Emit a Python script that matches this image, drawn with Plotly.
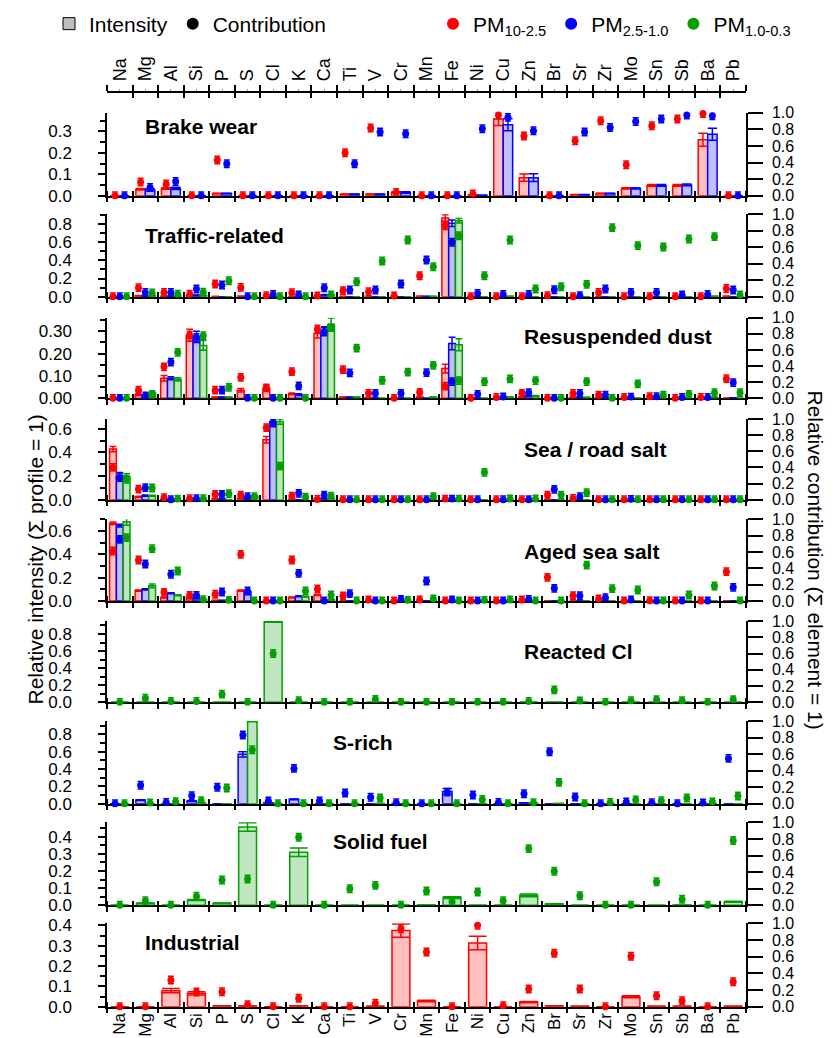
import plotly.graph_objects as go

elements = ["Na", "Mg", "Al", "Si", "P", "S", "Cl", "K", "Ca", "Ti", "V", "Cr", "Mn",
            "Fe", "Ni", "Cu", "Zn", "Br", "Sr", "Zr", "Mo", "Sn", "Sb", "Ba", "Pb"]

# ---- Brake wear ----
brake_int_pm10 = [0, .030, .034, 0, .010, 0, 0, 0, 0, .007, .007, .015, 0, 0, .003, .358, .084, 0, .005, .010, .034, .048, .048, .261, 0]
brake_err_pm10 = [0, .004, .004, 0, .001, 0, 0, 0, 0, .001, .001, .003, 0, 0, 0, .031, .017, 0, .001, .001, .003, .004, .004, .030, 0]
brake_con_pm10 = [0, .165, .140, 0, .430, 0, 0, 0, 0, .518, .815, .040, 0, 0, .020, .972, .720, 0, .663, .904, .373, .843, .924, .990, 0]
brake_int_pm25 = [0, .027, .034, 0, .010, 0, 0, 0, 0, .007, .007, .015, 0, 0, .002, .331, .084, 0, .005, .010, .034, .048, .050, .287, 0]
brake_err_pm25 = [0, .005, .005, 0, .001, 0, 0, 0, 0, .001, .001, .003, 0, 0, 0, .028, .018, 0, .001, .001, .003, .004, .004, .028, 0]
brake_con_pm25 = [0, .100, .170, 0, .385, 0, 0, 0, 0, .385, .767, .747, 0, 0, .807, .944, .783, 0, .767, .823, .895, .924, .972, .964, 0]

# ---- Traffic-related ----
traffic_int_pm10 = [0, .010, .005, .010, .002, .005, 0, 0, .005, .002, .002, .002, .005, .865, 0, 0, 0, 0, 0, 0, 0, 0, 0, 0, .005]
traffic_err_pm10 = [0, .002, .001, .002, 0, .001, 0, 0, .001, 0, 0, 0, .001, .035, 0, 0, 0, 0, 0, 0, 0, 0, 0, 0, .001]
traffic_con_pm10 = [0, .110, .050, .030, .154, .113, .012, .049, .008, .073, .060, .008, .255, .862, 0, 0, 0, .012, 0, .050, 0, 0, 0, 0, .100]
traffic_int_pm25 = [0, .005, .003, .015, 0, 0, 0, 0, .020, 0, 0, 0, .003, .807, 0, 0, 0, 0, 0, 0, 0, 0, 0, 0, 0]
traffic_err_pm25 = [0, .001, .001, .003, 0, 0, 0, 0, .003, 0, 0, 0, .001, .035, 0, 0, 0, 0, 0, 0, 0, 0, 0, 0, 0]
traffic_con_pm25 = [0, .050, .050, .093, .142, 0, .028, .020, .109, .081, .081, .154, .445, .660, .040, .028, .028, .085, .012, .093, .050, .050, .020, .028, .081]
traffic_int_pm1 = [0, .010, .003, .010, 0, 0, 0, 0, .015, 0, 0, 0, .003, .835, 0, .005, 0, 0, 0, 0, 0, 0, 0, .005, 0]
traffic_err_pm1 = [0, .002, 0, .002, 0, 0, 0, 0, .003, 0, 0, 0, .001, .025, 0, .001, 0, 0, 0, 0, 0, 0, 0, .001, 0]
traffic_con_pm1 = [0, .045, .030, .053, .194, 0, 0, 0, .020, .182, .433, .688, .364, .740, .255, .688, .093, .120, .150, .838, .620, .603, .700, .729, .020]

# ---- Resuspended dust ----
dust_int_pm10 = [0, .016, .090, .282, .005, .036, .045, .020, .290, .005, .002, 0, .005, .133, 0, 0, .005, 0, .004, .002, 0, 0, 0, 0, 0]
dust_err_pm10 = [0, .004, .012, .027, .001, .008, .012, .004, .020, .001, 0, 0, .001, .020, 0, 0, .001, 0, .001, 0, 0, 0, 0, 0, 0]
dust_con_pm10 = [0, .100, .390, .785, .100, .260, .128, .330, .860, .355, .062, 0, .074, .150, 0, .010, .062, 0, .060, .040, .010, .020, 0, .010, .244]
dust_int_pm25 = [0, .013, .090, .275, .005, 0, 0, .016, .300, .005, 0, 0, 0, .245, 0, 0, .010, 0, .004, 0, 0, 0, 0, 0, .002]
dust_err_pm25 = [0, .003, .007, .025, .001, 0, 0, .004, .020, .001, 0, 0, 0, .028, 0, 0, .002, 0, .001, 0, 0, 0, 0, 0, 0]
dust_con_pm25 = [0, .030, .450, .756, .100, 0, 0, .153, .830, .314, .062, .062, .318, .207, .050, .017, .070, 0, .060, .040, .015, .020, .010, .010, .195]
dust_int_pm1 = [0, .024, .085, .237, .005, 0, 0, 0, .330, .005, 0, 0, .005, .240, 0, .005, .010, 0, .004, 0, 0, 0, 0, .003, 0]
dust_err_pm1 = [0, .004, .007, .022, .001, 0, 0, 0, .030, .001, 0, 0, .001, .027, 0, .001, .002, 0, .001, 0, 0, 0, 0, .001, 0]
dust_con_pm1 = [0, .050, .570, .777, .136, 0, 0, 0, .876, .624, .223, .326, .410, .220, .207, .240, .220, 0, .207, 0, .180, .040, .050, .070, .070]

# ---- Sea / road salt ----
sea_int_pm10 = [.428, .025, .003, .002, .005, .010, .507, .004, .010, 0, 0, 0, 0, 0, 0, 0, 0, 0, 0, 0, 0, 0, 0, 0, 0]
sea_err_pm10 = [.022, .004, 0, 0, .001, .002, .027, 0, .002, 0, 0, 0, 0, 0, 0, 0, 0, 0, 0, 0, 0, 0, 0, 0, 0]
sea_con_pm10 = [.400, .132, .025, .012, .066, .058, .893, .045, .004, 0, 0, 0, 0, .008, 0, 0, 0, .058, .016, 0, 0, 0, 0, 0, 0]
sea_int_pm25 = [.200, .034, .003, 0, .005, .020, .660, 0, .010, 0, 0, 0, 0, 0, 0, 0, 0, 0, 0, 0, 0, 0, 0, 0, 0]
sea_err_pm25 = [.030, .005, 0, 0, .001, .004, .038, 0, .002, 0, 0, 0, 0, 0, 0, 0, 0, 0, 0, 0, 0, 0, 0, 0, 0]
sea_con_pm25 = [.273, .149, 0, .012, .066, .037, .950, .079, .058, 0, 0, 0, 0, .008, 0, 0, 0, .128, .037, 0, .005, 0, 0, 0, 0]
sea_int_pm1 = [.195, .034, 0, 0, 0, .030, .660, 0, .010, 0, 0, 0, 0, 0, 0, 0, 0, 0, 0, 0, 0, 0, 0, 0, 0]
sea_err_pm1 = [.025, .004, 0, 0, 0, .005, .022, 0, .002, 0, 0, 0, 0, 0, 0, 0, 0, 0, 0, 0, 0, 0, 0, 0, 0]
sea_con_pm1 = [.252, .145, .008, .012, .074, .037, .417, .033, .045, 0, 0, 0, .037, .008, .340, .010, .010, .058, .087, 0, 0, 0, 0, 0, 0]

# ---- Aged sea salt ----
aged_int_pm10 = [.666, .089, .029, .030, .005, .089, 0, .031, .051, 0, 0, 0, 0, 0, 0, 0, 0, 0, 0, 0, 0, 0, 0, 0, 0]
aged_err_pm10 = [.010, .005, .003, .003, .001, .005, 0, .004, .004, 0, 0, 0, 0, 0, 0, 0, 0, 0, 0, 0, 0, 0, 0, 0, 0]
aged_con_pm10 = [.612, .502, .106, .069, .082, .571, 0, .502, .147, .061, .012, 0, .012, 0, 0, 0, .012, .290, .065, .024, 0, .004, 0, 0, .359]
aged_int_pm25 = [.646, .100, .066, .030, .005, .080, 0, .040, 0, 0, 0, 0, 0, 0, 0, 0, 0, 0, 0, 0, 0, 0, 0, 0, 0]
aged_err_pm25 = [.012, .005, .004, .003, .001, .005, 0, .004, 0, 0, 0, 0, 0, 0, 0, 0, 0, 0, 0, 0, 0, 0, 0, 0, 0]
aged_con_pm25 = [.755, .453, .327, .069, .110, .122, 0, .339, 0, .090, 0, .020, .245, .012, 0, 0, .020, .155, .065, .040, .012, 0, 0, 0, .167]
aged_int_pm1 = [.680, .130, .050, .010, 0, 0, 0, .037, .010, 0, 0, 0, 0, 0, 0, 0, 0, 0, 0, 0, 0, 0, 0, 0, 0]
aged_err_pm1 = [.030, .016, .004, .002, 0, 0, 0, .003, .002, 0, 0, 0, 0, 0, 0, 0, 0, 0, 0, 0, 0, 0, 0, 0, 0]
aged_con_pm1 = [.776, .641, .367, .016, .008, 0, 0, .122, .073, 0, 0, .008, .024, 0, .008, .012, 0, 0, .440, .151, .135, 0, .073, .184, 0]

# ---- Reacted Cl ----
cl_int_pm1 = [0, 0, 0, 0, 0, 0, .945, 0, 0, 0, 0, 0, 0, 0, 0, 0, 0, 0, 0, 0, 0, 0, 0, 0, 0]
cl_err_pm1 = [0, 0, 0, 0, 0, 0, .008, 0, 0, 0, 0, 0, 0, 0, 0, 0, 0, 0, 0, 0, 0, 0, 0, 0, 0]
cl_con_pm1 = [0, .050, .010, .010, .100, 0, .600, .020, 0, 0, .037, 0, 0, 0, 0, 0, .010, .152, .016, 0, .020, .033, .020, 0, .033]

# ---- S-rich ----
srich_int_pm25 = [0, .042, 0, .030, 0, .570, .010, .050, 0, 0, 0, 0, 0, .140, 0, 0, .010, 0, 0, 0, 0, 0, 0, 0, 0]
srich_err_pm25 = [0, .005, 0, .004, 0, .030, .002, .005, 0, 0, 0, 0, 0, .035, 0, 0, .002, 0, 0, 0, 0, 0, 0, 0, 0]
srich_con_pm25 = [0, .222, .016, .097, .200, .830, .032, .427, .032, .129, .077, .012, 0, .140, .105, .016, .121, .629, .081, 0, .020, .012, 0, .008, .548]
srich_int_pm1 = [0, 0, 0, .005, 0, .950, 0, 0, 0, 0, .002, 0, 0, 0, 0, 0, .002, .002, 0, 0, 0, 0, 0, 0, 0]
srich_err_pm1 = [0, 0, 0, .001, 0, .004, 0, 0, 0, 0, 0, 0, 0, 0, 0, 0, 0, 0, 0, 0, 0, 0, 0, 0, 0]
srich_con_pm1 = [0, .008, .024, .036, .190, .653, 0, 0, 0, 0, .069, 0, 0, 0, .052, 0, .012, .258, 0, .016, .044, .036, .069, .020, .093]

# ---- Solid fuel ----
solid_int_pm1 = [0, .012, 0, .031, .012, .456, 0, .309, 0, 0, 0, 0, .002, .045, 0, 0, .058, .008, 0, 0, 0, 0, .002, 0, .021]
solid_err_pm1 = [0, .002, 0, .003, .002, .025, 0, .025, 0, 0, 0, 0, 0, .005, 0, 0, .008, .001, 0, 0, 0, 0, 0, 0, .003]
solid_con_pm1 = [0, .056, 0, .108, .305, .317, 0, .820, 0, .200, .240, 0, .173, .044, .160, .056, .683, .410, .116, 0, 0, .285, .072, 0, .780]

# ---- Industrial ----
ind_int_pm10 = [0, 0, .079, .066, .003, .003, 0, .003, 0, 0, .002, .374, .028, 0, .313, 0, .023, .003, .002, 0, .049, .002, .002, 0, .002]
ind_err_pm10 = [0, 0, .010, .008, 0, 0, 0, 0, 0, 0, 0, .033, .004, 0, .033, 0, .003, 0, 0, 0, .005, 0, 0, 0, 0]
ind_con_pm10 = [0, 0, .320, .176, .180, .024, 0, .100, 0, 0, .040, .936, .656, 0, .976, .012, .212, .640, .212, 0, .604, .132, .072, 0, .300]

con_err = 0.045  # typical uncertainty of the contribution points

panels = [
    ("Brake wear", [("pm10", brake_int_pm10, brake_err_pm10, brake_con_pm10),
                    ("pm25", brake_int_pm25, brake_err_pm25, brake_con_pm25)]),
    ("Traffic-related", [("pm10", traffic_int_pm10, traffic_err_pm10, traffic_con_pm10),
                         ("pm25", traffic_int_pm25, traffic_err_pm25, traffic_con_pm25),
                         ("pm1", traffic_int_pm1, traffic_err_pm1, traffic_con_pm1)]),
    ("Resuspended dust", [("pm10", dust_int_pm10, dust_err_pm10, dust_con_pm10),
                          ("pm25", dust_int_pm25, dust_err_pm25, dust_con_pm25),
                          ("pm1", dust_int_pm1, dust_err_pm1, dust_con_pm1)]),
    ("Sea / road salt", [("pm10", sea_int_pm10, sea_err_pm10, sea_con_pm10),
                         ("pm25", sea_int_pm25, sea_err_pm25, sea_con_pm25),
                         ("pm1", sea_int_pm1, sea_err_pm1, sea_con_pm1)]),
    ("Aged sea salt", [("pm10", aged_int_pm10, aged_err_pm10, aged_con_pm10),
                       ("pm25", aged_int_pm25, aged_err_pm25, aged_con_pm25),
                       ("pm1", aged_int_pm1, aged_err_pm1, aged_con_pm1)]),
    ("Reacted Cl", [("pm1", cl_int_pm1, cl_err_pm1, cl_con_pm1)]),
    ("S-rich", [("pm25", srich_int_pm25, srich_err_pm25, srich_con_pm25),
                ("pm1", srich_int_pm1, srich_err_pm1, srich_con_pm1)]),
    ("Solid fuel", [("pm1", solid_int_pm1, solid_err_pm1, solid_con_pm1)]),
    ("Industrial", [("pm10", ind_int_pm10, ind_err_pm10, ind_con_pm10)]),
]

# left-axis scale of each panel
left_top = [0.387, 0.906, 0.361, 0.682, 0.70, 0.952, 0.954, 0.483, 0.41]
left_step = [0.1, 0.2, 0.1, 0.2, 0.2, 0.2, 0.2, 0.1, 0.1]
left_fmt = [".1f", ".1f", ".2f", ".1f", ".1f", ".1f", ".1f", ".1f", ".1f"]

# ---- layout (pixels) ----
W, H = 840, 1038
X0, X1 = 107, 746
panel_px = [(112.7, 195.7), (214.3, 296.7), (317.7, 398.3), (419, 499.7), (519.3, 601),
            (621, 702.3), (721, 803.7), (822.3, 905.3), (923.3, 1006.7)]
title_px = [(143, 126), (143, 236), (522, 337), (522, 449), (522, 551),
            (522, 651), (331, 742), (331, 841), (143, 942)]
FONT = "Liberation Sans, Arial, sans-serif"
colors = {"pm10": "#ff0000", "pm25": "#0000ff", "pm1": "#00a000"}
fills = {"pm10": "#ffbfbf", "pm25": "#bfbfff", "pm1": "#bfe6bf"}
names = {"pm10": "PM<sub>10-2.5</sub>", "pm25": "PM<sub>2.5-1.0</sub>", "pm1": "PM<sub>1.0-0.3</sub>"}
group_w = {1: 0.70, 2: 0.74, 3: 0.80}

n = len(elements)
idx = list(range(n))
bounds = [i - 0.5 for i in range(n + 1)]
slot_px = (X1 - X0) / n


def px_x(px):
    return (px - X0) / (X1 - X0)


def px_y(py):
    return 1 - py / H


fig = go.Figure()
layout = {}

for p, (name, series) in enumerate(panels):
    k = p + 1
    xa = "x" if k == 1 else f"x{k}"
    yl = "y" if k == 1 else f"y{k}"
    yr = f"y{k + 9}"
    nf = len(series)
    gw = group_w[nf]
    bw = gw / nf
    for j, (frac, inten, err, con) in enumerate(series):
        off = -gw / 2 + j * bw
        fig.add_trace(go.Bar(
            x=idx, y=inten, width=bw, offset=off, xaxis=xa, yaxis=yl,
            marker=dict(color=fills[frac], line=dict(color=colors[frac], width=1.5)),
            error_y=dict(type="data", array=err, color=colors[frac], thickness=1.5,
                         width=bw * slot_px / 2),
            showlegend=False, hoverinfo="skip", cliponaxis=False))
    for j, (frac, inten, err, con) in enumerate(series):
        off = -gw / 2 + j * bw
        fig.add_trace(go.Scatter(
            x=[i + off + bw / 2 for i in idx], y=con, mode="markers", xaxis=xa, yaxis=yr,
            marker=dict(color=colors[frac], size=7),
            error_y=dict(type="constant", value=con_err, color=colors[frac],
                         thickness=1.5, width=3),
            showlegend=False, hoverinfo="skip", cliponaxis=False))

    top, bot = panel_px[p]
    layout["xaxis" if k == 1 else f"xaxis{k}"] = dict(
        domain=[0, 1], anchor=yl, range=[-0.5, n - 0.5], tickmode="array", tickvals=bounds,
        ticks="outside", ticklen=5, tickwidth=1.5, tickcolor="black", showticklabels=False,
        showline=True, linecolor="black", linewidth=1.5, showgrid=False, zeroline=False,
        layer="below traces", automargin=False,
        minor=dict(tickmode="array", tickvals=[b + 1e-3 for b in bounds], ticks="inside",
                   ticklen=5, tickwidth=1.5, tickcolor="black"))
    layout["yaxis" if k == 1 else f"yaxis{k}"] = dict(
        domain=[px_y(bot), px_y(top)], anchor=xa, range=[0, left_top[p]],
        tickmode="linear", tick0=0, dtick=left_step[p], tickformat=left_fmt[p],
        ticks="outside", ticklen=7, tickwidth=1.5, tickcolor="black",
        showline=True, linecolor="black", linewidth=1.5, showgrid=False, zeroline=False,
        tickfont=dict(size=17, color="black"), ticklabelstandoff=23, automargin=False,
        minor=dict(tick0=0, dtick=left_step[p] / 2, ticks="outside", ticklen=5,
                   tickwidth=1.5, tickcolor="black"))
    layout[f"yaxis{k + 9}"] = dict(
        overlaying=yl, side="right", anchor=xa, range=[0, 1.0],
        tickmode="linear", tick0=0, dtick=0.2, tickformat=".1f",
        ticks="outside", ticklen=15, tickwidth=1.5, tickcolor="black",
        showline=True, linecolor="black", linewidth=1.5, showgrid=False, zeroline=False,
        tickfont=dict(size=16, color="black"), ticklabelstandoff=6, automargin=False)

# element labels under the last panel
layout["xaxis10"] = dict(
    overlaying="x9", anchor="y9", side="bottom", range=[-0.5, n - 0.5],
    tickmode="array", tickvals=idx, ticktext=elements, tickangle=-90, ticks="",
    showline=False, showgrid=False, zeroline=False, ticklabelstandoff=2,
    tickfont=dict(size=17, color="black"), automargin=False)
# element labels on top
top_line = px_y(91.7)
layout["xaxis11"] = dict(
    overlaying="x", anchor="free", position=top_line, side="top", range=[-0.5, n - 0.5],
    tickmode="array", tickvals=idx, ticktext=elements, tickangle=-90,
    ticks="outside", ticklen=2, tickwidth=1, tickcolor="#999999",
    showline=True, linecolor="black", linewidth=1.5, showgrid=False, zeroline=False,
    tickfont=dict(size=18, color="black"), ticklabelstandoff=4, automargin=False,
    minor=dict(tickmode="array", tickvals=bounds, ticks="outside", ticklen=5.5,
               tickwidth=1.5, tickcolor="black"))
layout["xaxis12"] = dict(
    overlaying="x", anchor="free", position=top_line, side="top", range=[-0.5, n - 0.5],
    tickmode="array", tickvals=bounds, ticks="inside", ticklen=5.5, tickwidth=1.5,
    tickcolor="black", showticklabels=False, showline=False, showgrid=False,
    zeroline=False, automargin=False)

for xa, ya in [("x10", "y9"), ("x11", "y"), ("x12", "y")]:
    fig.add_trace(go.Scatter(x=[None], y=[None], xaxis=xa, yaxis=ya, mode="markers",
                             showlegend=False, hoverinfo="skip"))

# legend entries
fig.add_trace(go.Bar(x=[None], y=[None], name="Intensity", legend="legend",
                     marker=dict(color="#bebebe", line=dict(color="black", width=1))))
fig.add_trace(go.Scatter(x=[None], y=[None], name="Contribution", mode="markers",
                         legend="legend", marker=dict(color="black", size=12)))
for frac in ["pm10", "pm25", "pm1"]:
    fig.add_trace(go.Scatter(x=[None], y=[None], name=names[frac], mode="markers",
                             legend="legend2", marker=dict(color=colors[frac], size=12)))

annotations = []
for (name, _), (tx, ty) in zip(panels, title_px):
    annotations.append(dict(text=f"<b>{name}</b>", x=px_x(tx), y=px_y(ty),
                            xref="paper", yref="paper", xanchor="left", yanchor="middle",
                            showarrow=False, font=dict(size=21, color="black")))
annotations.append(dict(text="Relative intensity (\u03a3 profile = 1)", x=px_x(21), y=px_y(560),
                        xref="paper", yref="paper", textangle=-90, showarrow=False,
                        font=dict(size=21, color="black")))
annotations.append(dict(text="Relative contribution (\u03a3 element = 1)", x=px_x(829), y=px_y(560),
                        xref="paper", yref="paper", textangle=90, showarrow=False,
                        font=dict(size=21, color="black")))

fig.update_layout(
    width=W, height=H, barmode="overlay",
    margin=dict(l=X0, r=W - X1, t=0, b=0, autoexpand=False),
    paper_bgcolor="white", plot_bgcolor="white",
    font=dict(family=FONT, color="black"),
    showlegend=True,
    legend=dict(orientation="h", xref="container", yref="container", x=49 / W,
                y=1 - 24 / H, xanchor="left", yanchor="middle", bgcolor="rgba(0,0,0,0)",
                font=dict(size=21), itemwidth=30),
    legend2=dict(orientation="h", xref="container", yref="container", x=433 / W,
                 y=1 - 24 / H, xanchor="left", yanchor="middle", bgcolor="rgba(0,0,0,0)",
                 font=dict(size=21), itemwidth=30),
    annotations=annotations,
    **layout,
)

# the page body has a default margin; remove it so the figure fills the window exactly
fig.write_html("out.html", config={"displayModeBar": False},
               post_script="document.body.style.margin='0';document.body.style.overflow='hidden';")
